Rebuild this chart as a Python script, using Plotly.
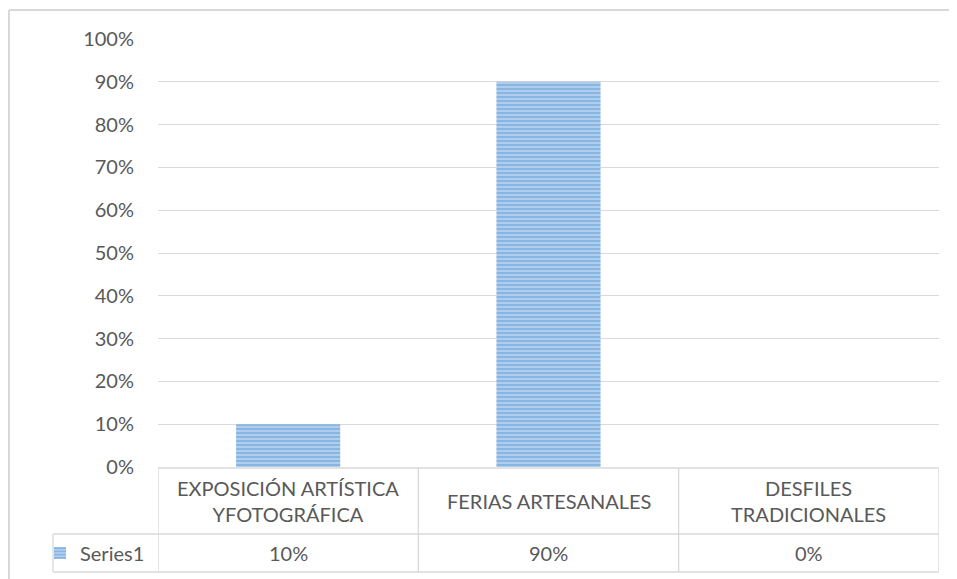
import plotly.graph_objects as go

categories = ["EXPOSICIÓN ARTÍSTICA<br>YFOTOGRÁFICA", "FERIAS ARTESANALES", "DESFILES<br>TRADICIONALES"]
values = [0.10, 0.90, 0.0]
series_name = "Series1"
value_labels = ["10%", "90%", "0%"]

OFF = 8  # page margin around the figure
W, H = 957 - OFF, 579 - OFF
L, T = 158 - OFF, 39 - OFF
R, B = W - (939 - OFF), H - (467 - OFF)
PW, PH = W - L - R, H - T - B

def py(pix):
    return (H - B - (pix - OFF)) / PH

def px(pix):
    return ((pix - OFF) - L) / PW

GRID = "#D9D9D9"
TXT = "#595959"
FONT = "Lato"
FS = 20

fig = go.Figure()
fig.add_trace(go.Bar(
    x=list(range(len(categories))), y=values, name=series_name, width=0.4,
    marker=dict(color="#5B9BD5", line=dict(width=0),
                pattern=dict(shape="-", fgcolor="#5B9BD5", bgcolor="#B4D0EE", size=4, solidity=0.55)),
    showlegend=True,
))

shapes = []
def line(x0, y0, x1, y1, xref="x", yref="paper", w=1.3, c=GRID):
    shapes.append(dict(type="line", x0=x0, y0=y0, x1=x1, y1=y1, xref=xref, yref=yref,
                       line=dict(color=c, width=w), layer="below"))

n = len(categories)
y_top, y_mid, y_bot = py(468), py(534), py(572)
line(-0.5, y_top, n - 0.5, y_top)
line(-0.5, y_mid, n - 0.5, y_mid)
line(-0.5, y_bot, n - 0.5, y_bot)
line(px(53), y_mid, 0, y_mid, xref="paper")
line(px(53), y_bot, 0, y_bot, xref="paper")
line(px(53), y_mid, px(53), y_bot, xref="paper")
for i in range(n + 1):
    line(i - 0.5, y_top, i - 0.5, y_bot)
# chart-area border (left and top visible)
line(px(9), py(10), px(9), -0.5, xref="paper", w=2)
line(px(9), py(10), 1.2, py(10), xref="paper", w=2)

annotations = []
for i, c in enumerate(categories):
    annotations.append(dict(x=i, y=py(501), xref="x", yref="paper", text=c, showarrow=False,
                            xanchor="center", yanchor="middle",
                            font=dict(family=FONT, size=FS, color=TXT), align="center"))
    annotations.append(dict(x=i, y=py(553), xref="x", yref="paper", text=value_labels[i], showarrow=False,
                            xanchor="center", yanchor="middle",
                            font=dict(family=FONT, size=FS, color=TXT)))

fig.update_layout(
    width=W, height=H,
    margin=dict(l=L, r=R, t=T, b=B, autoexpand=False),
    paper_bgcolor="white", plot_bgcolor="white",
    shapes=shapes, annotations=annotations,
    xaxis=dict(range=[-0.5, n - 0.5], showticklabels=False, showgrid=False, zeroline=False,
               showline=False, ticks=""),
    yaxis=dict(range=[0, 1], dtick=0.1, tickformat=".0%", showgrid=True, gridcolor=GRID, gridwidth=1.3,
               zeroline=False, showline=False, ticks="", ticklabelstandoff=23,
               tickfont=dict(family=FONT, size=FS, color=TXT)),
    legend=dict(x=px(40), y=py(553), xanchor="left", yanchor="middle", font=dict(family=FONT, size=FS, color=TXT),
                bgcolor="rgba(0,0,0,0)", itemwidth=30, tracegroupgap=0),
    bargap=0.6,
)

fig.write_html("out.html")
